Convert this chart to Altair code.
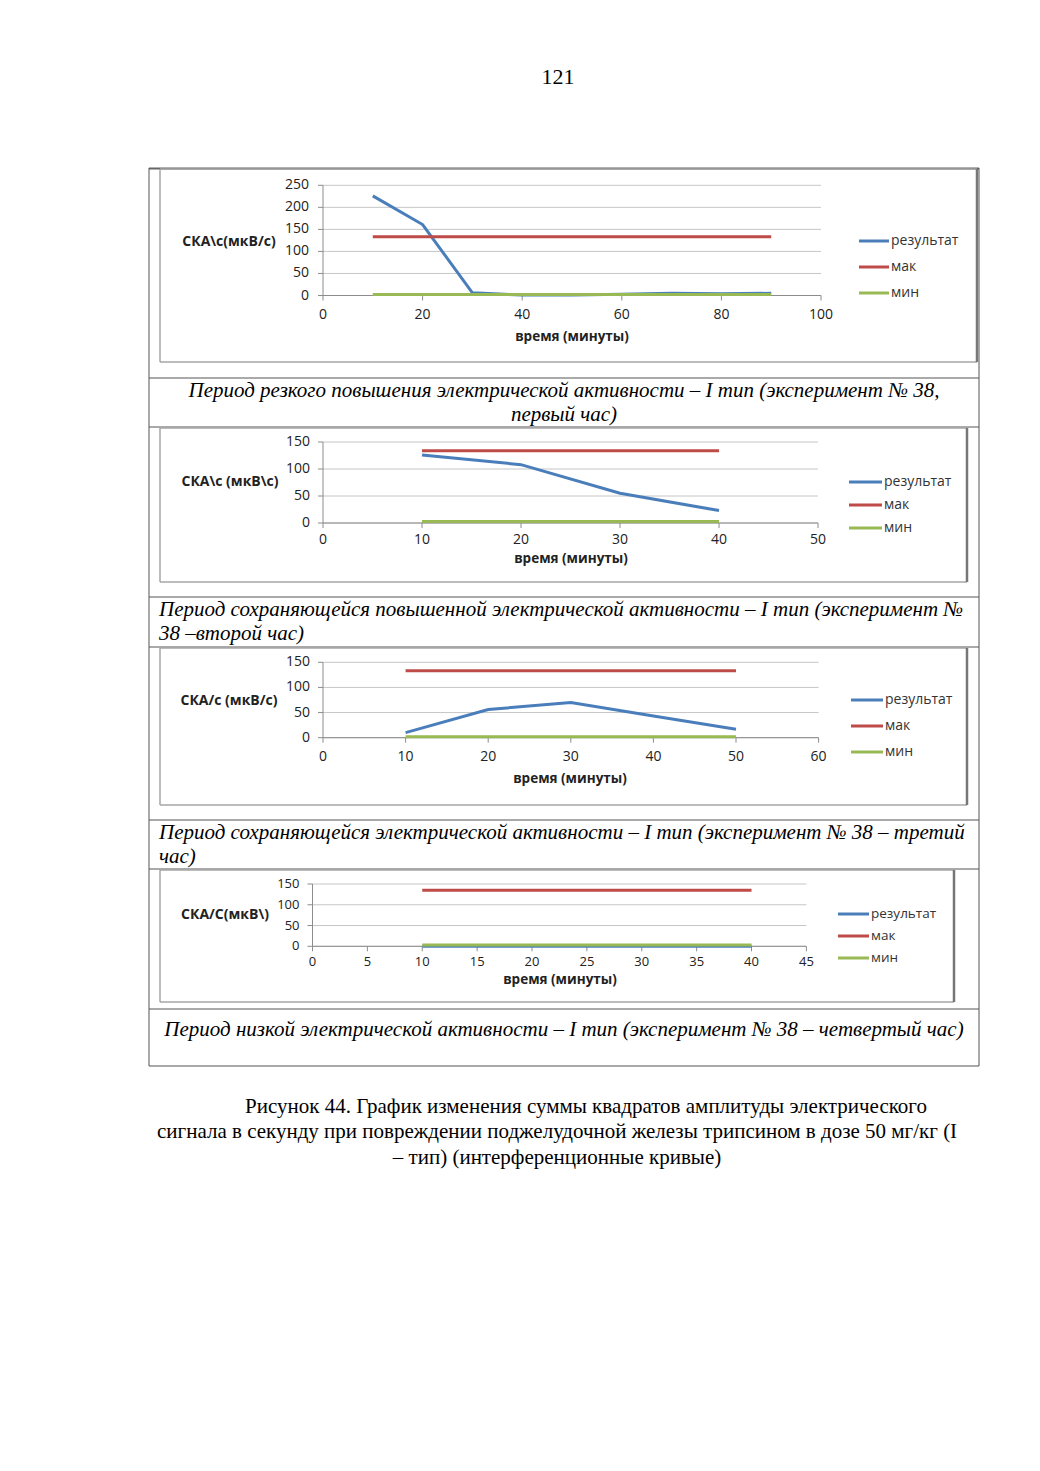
import altair as alt
import pandas as pd

OFF = 8  # page margin of the html page

SERIES = ["результат", "мак", "мин"]
COLORS = ["#4a7ebb", "#be4b48", "#98b954"]

# ---- chart 1 (first hour)
c1_time = [10, 20, 30, 40, 50, 60, 70, 80, 90]
c1_result = [226, 161, 6, 1, 1, 3, 5, 4, 5]
c1_max = [133, 133, 133, 133, 133, 133, 133, 133, 133]
c1_min = [2, 2, 2, 2, 2, 2, 2, 2, 2]
c1_xticks = [0, 20, 40, 60, 80, 100]
c1_yticks = [0, 50, 100, 150, 200, 250]
c1_ytitle = "СКА\\с(мкВ/с)"

# ---- chart 2 (second hour)
c2_time = [10, 20, 30, 40]
c2_result = [126, 108, 55, 23]
c2_max = [134, 134, 134, 134]
c2_min = [3, 3, 3, 3]
c2_xticks = [0, 10, 20, 30, 40, 50]
c2_yticks = [0, 50, 100, 150]
c2_ytitle = "СКА\\с (мкВ\\с)"

# ---- chart 3 (third hour)
c3_time = [10, 20, 30, 40, 50]
c3_result = [10, 56, 70, 43, 17]
c3_max = [133, 133, 133, 133, 133]
c3_min = [2, 2, 2, 2, 2]
c3_xticks = [0, 10, 20, 30, 40, 50, 60]
c3_yticks = [0, 50, 100, 150]
c3_ytitle = "СКА/с (мкВ/с)"

# ---- chart 4 (fourth hour)
c4_time = [10, 20, 30, 40]
c4_result = [0, 0, 0, 0]
c4_max = [135, 135, 135, 135]
c4_min = [3, 3, 3, 3]
c4_xticks = [0, 5, 10, 15, 20, 25, 30, 35, 40, 45]
c4_yticks = [0, 50, 100, 150]
c4_ytitle = "СКА/С(мкВ\\)"

XTITLE = "время (минуты)"

PAGE_NUMBER = "121"
CAPTIONS = [
    ["Период резкого повышения электрической активности – I тип (эксперимент № 38,", "первый час)"],
    ["Период сохраняющейся повышенной электрической активности – I тип (эксперимент №", "38 –второй час)"],
    ["Период сохраняющейся электрической активности – I тип (эксперимент № 38 – третий", "час)"],
    ["Период низкой электрической активности – I тип (эксперимент № 38 – четвертый час)"],
]
FIGURE_CAPTION = [
    "Рисунок 44. График изменения суммы квадратов амплитуды электрического",
    "сигнала в секунду при повреждении поджелудочной железы трипсином в дозе 50 мг/кг (I",
    "– тип) (интерференционные кривые)",
]

SANS = "Open Sans"
SERIF = "Liberation Serif"


def P(v):
    return v - OFF


def text_layer(txt, x, y, size, font=SERIF, style="normal", weight="normal", align="center", color="#000"):
    return alt.Chart(pd.DataFrame({"t": [txt]})).mark_text(
        font=font, fontSize=size, fontStyle=style, fontWeight=weight, align=align,
        baseline="middle", color=color,
    ).encode(x=alt.value(P(x)), y=alt.value(P(y)), text="t:N")


def hline(x1, x2, y, color, w):
    return alt.Chart(pd.DataFrame({"a": [0]})).mark_rule(color=color, strokeWidth=w).encode(
        x=alt.value(P(x1)), x2=alt.value(P(x2)), y=alt.value(P(y)))


def vline(x, y1, y2, color, w):
    return alt.Chart(pd.DataFrame({"a": [0]})).mark_rule(color=color, strokeWidth=w).encode(
        x=alt.value(P(x)), y=alt.value(P(y1)), y2=alt.value(P(y2)))


def panel(times, result, mx, mn, xticks, yticks, geo):
    x0, x1, y0, y1 = geo["x0"], geo["x1"], geo["y0"], geo["y1"]
    fs = geo["fs"]
    xs = alt.Scale(domain=[xticks[0], xticks[-1]], range=[P(x0), P(x1)], nice=False, zero=False)
    ys = alt.Scale(domain=[yticks[0], yticks[-1]], range=[P(y0), P(y1)], nice=False, zero=False)
    ydf = pd.DataFrame({"v": yticks})
    xdf = pd.DataFrame({"v": xticks})

    grid = alt.Chart(ydf).mark_rule(color="#c6c6c6", strokeWidth=1).encode(
        y=alt.Y("v:Q", scale=ys, axis=None),
        x=alt.XDatum(xticks[0], scale=xs, axis=None),
        x2=alt.X2Datum(xticks[-1]),
    )
    yaxis = alt.Chart(ydf.head(1)).mark_rule(color="#8c8c8c", strokeWidth=1).encode(
        x=alt.XDatum(xticks[0], scale=xs, axis=None),
        y=alt.YDatum(yticks[0], scale=ys, axis=None),
        y2=alt.Y2Datum(yticks[-1]),
    )
    xaxis = alt.Chart(ydf.head(1)).mark_rule(color="#8c8c8c", strokeWidth=1).encode(
        y=alt.YDatum(yticks[0], scale=ys, axis=None),
        x=alt.XDatum(xticks[0], scale=xs, axis=None),
        x2=alt.X2Datum(xticks[-1]),
    )
    xtk = alt.Chart(xdf).mark_rule(color="#8c8c8c", strokeWidth=1).encode(
        x=alt.X("v:Q", scale=xs, axis=None),
        y=alt.YDatum(yticks[0], scale=ys, axis=None),
        y2=alt.value(P(y0) + 5),
    )
    ytk = alt.Chart(ydf).mark_rule(color="#8c8c8c", strokeWidth=1).encode(
        y=alt.Y("v:Q", scale=ys, axis=None),
        x=alt.XDatum(xticks[0], scale=xs, axis=None),
        x2=alt.value(P(x0) - 5),
    )
    xlab = alt.Chart(xdf).mark_text(font=SANS, fontSize=fs, color="#222", baseline="middle",
                                    dy=geo["xdy"]).encode(
        x=alt.X("v:Q", scale=xs, axis=None),
        y=alt.YDatum(yticks[0], scale=ys, axis=None),
        text=alt.Text("v:Q", format="d"),
    )
    ylab = alt.Chart(ydf).mark_text(font=SANS, fontSize=fs, color="#222", baseline="middle",
                                    align="right", dx=-geo["ydx"]).encode(
        y=alt.Y("v:Q", scale=ys, axis=None),
        x=alt.XDatum(xticks[0], scale=xs, axis=None),
        text=alt.Text("v:Q", format="d"),
    )
    cscale = alt.Scale(domain=SERIES, range=COLORS)
    lines = []
    for name, vals in zip(SERIES, [result, mx, mn]):
        df = pd.DataFrame({"x": times, "y": vals, "series": name})
        lines.append(alt.Chart(df).mark_line(strokeWidth=3).encode(
            x=alt.X("x:Q", scale=xs, axis=None),
            y=alt.Y("y:Q", scale=ys, axis=None),
            color=alt.Color("series:N", scale=cscale, legend=None),
        ))
    return alt.layer(grid, yaxis, xaxis, xtk, ytk, *lines, xlab, ylab)


def legend(geo):
    ldf = pd.DataFrame({"series": SERIES})
    ls = alt.Scale(type="point", domain=SERIES, range=[P(geo["ly0"]), P(geo["ly1"])], padding=0)
    cscale = alt.Scale(domain=SERIES, range=COLORS)
    sym = alt.Chart(ldf).mark_rule(strokeWidth=3).encode(
        y=alt.Y("series:N", scale=ls, axis=None),
        x=alt.value(P(geo["lx0"])), x2=alt.value(P(geo["lx1"])),
        color=alt.Color("series:N", scale=cscale, legend=None),
    )
    lab = alt.Chart(ldf).mark_text(font=SANS, fontSize=geo["lfs"], color="#333", align="left",
                                   baseline="middle").encode(
        y=alt.Y("series:N", scale=ls, axis=None),
        x=alt.value(P(geo["lx1"] + 2)),
        text="series:N",
    )
    return alt.layer(sym, lab)


G1 = dict(x0=323, x1=821, y0=295.5, y1=185.3, fs=14, lfs=14, tfs=14, xdy=19, ydx=14,
          lx0=859, lx1=889, ly0=241, ly1=293, tx=229, ty=242, xtx=572, xty=337)
G2 = dict(x0=323, x1=818, y0=523, y1=442, fs=14, lfs=14, tfs=14, xdy=17, ydx=13,
          lx0=849, lx1=882, ly0=482, ly1=528, tx=230, ty=482, xtx=571, xty=559)
G3 = dict(x0=323, x1=818.6, y0=737.7, y1=662.3, fs=14, lfs=14, tfs=14, xdy=19, ydx=13,
          lx0=851, lx1=883, ly0=700, ly1=752, tx=229, ty=701, xtx=570, xty=779)
G4 = dict(x0=312.5, x1=806.4, y0=946.3, y1=884, fs=13, lfs=13.5, tfs=14, xdy=16, ydx=13,
          lx0=838, lx1=869, ly0=914, ly1=958, tx=225, ty=915, xtx=560, xty=980)

layers = []

# frames of the table
TBL = "#555555"
BOX = "#a6a6a6"
layers += [
    hline(149, 979, 168.5, "#666666", 2),
    hline(149, 979, 1066, TBL, 1),
    vline(149, 168, 1066, TBL, 1),
    vline(979, 168, 1066, TBL, 1),
]
for yy in [378, 427, 597, 647, 820, 869, 1009]:
    layers.append(hline(149, 979, yy, TBL, 1))

for (bx0, bx1, by0, by1) in [(160, 977, 169, 362), (160, 967, 428, 582),
                             (160, 967, 648, 805), (160, 954, 870, 1002)]:
    layers += [
        hline(bx0, bx1, by0, BOX, 1.5),
        hline(bx0, bx1, by1, BOX, 1.5),
        vline(bx0, by0, by1, BOX, 1.5),
        vline(bx1, by0, by1, "#777777", 2.5),
    ]

# charts
data_sets = [
    (c1_time, c1_result, c1_max, c1_min, c1_xticks, c1_yticks, c1_ytitle, G1),
    (c2_time, c2_result, c2_max, c2_min, c2_xticks, c2_yticks, c2_ytitle, G2),
    (c3_time, c3_result, c3_max, c3_min, c3_xticks, c3_yticks, c3_ytitle, G3),
    (c4_time, c4_result, c4_max, c4_min, c4_xticks, c4_yticks, c4_ytitle, G4),
]
for t, r, mx, mn, xt, yt, ttl, g in data_sets:
    layers.append(panel(t, r, mx, mn, xt, yt, g))
    layers.append(legend(g))
    layers.append(text_layer(ttl, g["tx"], g["ty"], g["tfs"], font=SANS, weight="bold", color="#222"))
    layers.append(text_layer(XTITLE, g["xtx"], g["xty"], g["tfs"] - 0.5, font=SANS, weight="bold", color="#222"))

# captions
CAP = 21
layers.append(text_layer(CAPTIONS[0][0], 564, 391, CAP, style="italic"))
layers.append(text_layer(CAPTIONS[0][1], 564, 415, CAP, style="italic"))
layers.append(text_layer(CAPTIONS[1][0], 159, 610, CAP, style="italic", align="left"))
layers.append(text_layer(CAPTIONS[1][1], 159, 634, CAP, style="italic", align="left"))
layers.append(text_layer(CAPTIONS[2][0], 159, 833, CAP, style="italic", align="left"))
layers.append(text_layer(CAPTIONS[2][1], 159, 857, CAP, style="italic", align="left"))
layers.append(text_layer(CAPTIONS[3][0], 564, 1030, CAP, style="italic"))

layers.append(text_layer(PAGE_NUMBER, 558, 77, 22))
layers.append(text_layer(FIGURE_CAPTION[0], 245, 1107, 21, align="left"))
layers.append(text_layer(FIGURE_CAPTION[1], 157, 1132, 21, align="left"))
layers.append(text_layer(FIGURE_CAPTION[2], 557, 1158, 21))

chart = alt.layer(*layers).resolve_scale(
    x="independent", y="independent", color="independent"
).properties(
    width=1024, height=1455, padding=0, autosize=alt.AutoSizeParams(type="none"),
    background="white",
).configure_view(stroke=None)

chart.save("out.html", embed_options={"renderer": "svg", "actions": False})
